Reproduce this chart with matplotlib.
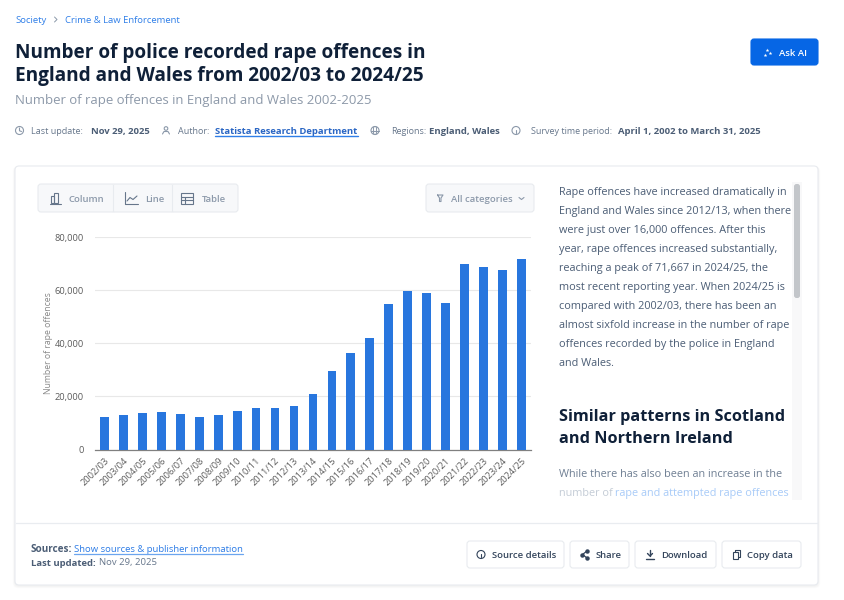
import matplotlib
matplotlib.use('Agg')
import matplotlib.pyplot as plt
from matplotlib.patches import FancyBboxPatch, Rectangle, Circle
from matplotlib.ticker import FuncFormatter

plt.rcParams['font.family'] = ['Open Sans', 'DejaVu Sans']

years = ['2002/03', '2003/04', '2004/05', '2005/06', '2006/07', '2007/08', '2008/09', '2009/10',
         '2010/11', '2011/12', '2012/13', '2013/14', '2014/15', '2015/16', '2016/17', '2017/18',
         '2018/19', '2019/20', '2020/21', '2021/22', '2022/23', '2023/24', '2024/25']
offences = [12200, 12900, 13700, 14300, 13400, 12400, 12900, 14700, 15800, 15800, 16400, 20800,
            29500, 36400, 41900, 54700, 59700, 59000, 55400, 69800, 68800, 67600, 71667]
y_ticks = [0, 20000, 40000, 60000, 80000]

paragraph = ['Rape offences have increased dramatically in',
             'England and Wales since 2012/13, when there',
             'were just over 16,000 offences. After this',
             'year, rape offences increased substantially,',
             'reaching a peak of 71,667 in 2024/25, the',
             'most recent reporting year. When 2024/25 is',
             'compared with 2002/03, there has been an',
             'almost sixfold increase in the number of rape',
             'offences recorded by the police in England',
             'and Wales.']

NAVY = '#0f2038'
SLATE = '#4b5d75'
MUTED = '#8c99aa'
LINK = '#0666e5'
PALE = '#f7f8fa'
EDGE = '#e8ebef'

fig = plt.figure(figsize=(8.45, 6), dpi=100, facecolor='white')

# page layer in pixel coordinates, y pointing down
page = fig.add_axes([0, 0, 1, 1])
page.set_xlim(0, 845)
page.set_ylim(600, 0)
page.axis('off')


def label(x, y, s, size=9, color=SLATE, weight='normal', ha='left'):
    return page.text(x, y, s, fontsize=size * 0.72, color=color, fontweight=weight,
                     ha=ha, va='center_baseline')


def box(x0, y0, x1, y1, face='white', edge=EDGE, radius=3, lw=0.8, z=2):
    page.add_patch(FancyBboxPatch((x0, y0), x1 - x0, y1 - y0,
                                  boxstyle=f'round,pad=0,rounding_size={radius}',
                                  fc=face, ec=edge, lw=lw, zorder=z))


def shadow(x0, y0, x1, y1, radius=4, reach=4):
    for i in range(reach, 0, -1):
        page.add_patch(FancyBboxPatch((x0 - i * 0.6, y0 - i * 0.3 + 1), x1 - x0 + i * 1.2, y1 - y0 + i * 0.9,
                                      boxstyle=f'round,pad=0,rounding_size={radius + i * 0.5}',
                                      fc='#10233c', ec='none', alpha=0.012, zorder=1))


def ring(x, y, r=4, color=MUTED, lw=0.8):
    page.add_patch(Circle((x, y), r, fc='none', ec=color, lw=lw, zorder=5))


def stroke(xs, ys, color=MUTED, lw=0.8):
    page.plot(xs, ys, color=color, lw=lw, zorder=5, solid_capstyle='round')


# header
label(15, 19.5, 'Society', 9.5, '#2f7fe8')
stroke([54.5, 57, 54.5], [17, 19.5, 22], MUTED, 0.7)
label(65, 19.5, 'Crime & Law Enforcement', 9.5, '#2f7fe8')
label(15, 50.5, 'Number of police recorded rape offences in', 19.05, NAVY, 'bold')
label(15, 74, 'England and Wales from 2002/03 to 2024/25', 19.05, NAVY, 'bold')
label(15, 99, 'Number of rape offences in England and Wales 2002-2025', 13.1, '#8d99a9')

box(751, 39, 818, 65, face='#0666e5', edge='#0666e5', radius=3)
label(779, 52.5, 'Ask AI', 9.5, 'white', 'semibold')
page.plot([767.5, 770, 765], [49.5, 53, 54.5], ls='none', marker='*', ms=2.8, mew=0, color='white', zorder=5)

# metadata row
ring(19.5, 130.5)
stroke([19.5, 19.5, 21.5], [128, 130.8, 131.5])
label(31, 130.5, 'Last update:', 9, '#66768b')
label(91, 130.5, 'Nov 29, 2025', 9.5, SLATE, 'bold')
ring(166, 128.5, 1.8)
stroke([162.5, 164, 168, 169.5], [134, 131.5, 131.5, 134])
label(178, 130.5, 'Author:', 9, '#66768b')
label(215.5, 130.5, 'Statista Research Department', 9.5, '#2a66c4', 'bold')
stroke([215.5, 358.5], [136, 136], '#2f7fe8', 1)
ring(375, 130.5)
stroke([371, 379], [130.5, 130.5])
page.add_patch(FancyBboxPatch((373.5, 126.5), 3, 8, boxstyle='round,pad=0,rounding_size=1.5', fc='none', ec=MUTED, lw=0.7, zorder=5))
label(391, 130.5, 'Regions:', 9, '#66768b')
label(429, 130.5, 'England, Wales', 9.5, SLATE, 'bold')
ring(516, 130.5)
stroke([516, 516], [129.5, 133])
label(531, 130.5, 'Survey time period:', 9, '#66768b')
label(618, 130.5, 'April 1, 2002 to March 31, 2025', 9.5, SLATE, 'bold')

# card
shadow(15, 166, 818, 585)
box(15, 166, 818, 585, radius=4)
page.plot([16, 817], [523, 523], color='#e9ecf0', lw=0.9, zorder=3)

# view switcher and filter
shadow(38, 184, 238, 212, 3, 3)
box(38, 184, 238, 212, face=PALE, z=3)
for x in (113, 172):
    page.plot([x, x], [185, 211], color=EDGE, lw=0.8, zorder=4)
stroke([50, 61], [204, 204], '#66768b')
page.add_patch(Rectangle((51.5, 196), 3, 7, fc='none', ec='#66768b', lw=0.8, zorder=5))
page.add_patch(Rectangle((54.5, 192.5), 3.5, 10.5, fc='none', ec='#66768b', lw=0.8, zorder=5))
label(69, 198.5, 'Column', 9.5, MUTED, 'semibold')
stroke([125, 125, 138], [191.5, 204, 204], '#66768b')
stroke([127, 130, 133, 137], [201, 197.5, 199.5, 196], '#66768b')
label(145, 198.5, 'Line', 9.5, MUTED, 'semibold')
page.add_patch(Rectangle((181, 193), 12, 10.5, fc='none', ec='#66768b', lw=0.8, zorder=5))
stroke([181, 193], [196.5, 196.5], '#66768b')
stroke([181, 193], [200, 200], '#66768b')
stroke([185.5, 185.5], [196.5, 203.5], '#66768b')
label(202, 198.5, 'Table', 9.5, MUTED, 'semibold')

shadow(426, 184, 534, 212, 3, 3)
box(426, 184, 534, 212, face=PALE, z=3)
stroke([437.5, 443, 441, 441, 439.5, 439.5, 437.5], [195, 195, 198, 201.5, 201.5, 198, 195], MUTED)
label(451, 198.5, 'All categories', 9.5, MUTED, 'semibold')
stroke([519, 521.5, 524], [197.5, 199.5, 197.5], MUTED)

# commentary column
for i, line in enumerate(paragraph):
    label(559.5, 191 + i * 19, line, 10.85, SLATE)
label(559.5, 415, 'Similar patterns in Scotland', 16.3, NAVY, 'bold')
label(559.5, 437, 'and Northern Ireland', 16.3, NAVY, 'bold')
label(559.5, 473, 'While there has also been an increase in the', 10.85, '#6f7f93')
label(559.5, 492, 'number of', 10.85, '#c4ccd6')
label(615.5, 492, 'rape and attempted rape offences', 10.85, '#a8cbf8')
page.add_patch(Rectangle((792, 182), 10, 318, fc='#f8f8f9', ec='none', zorder=2.5))
box(794, 184, 800, 298, face='#c3c6ca', edge='none', radius=2.5, z=4)

# footer
label(31, 548, 'Sources:', 9.9, SLATE, 'bold')
label(74, 548, 'Show sources & publisher information', 9.5, '#2b7be6')
stroke([74, 243], [553.5, 553.5], '#6ba5ef', 0.9)
label(31, 562, 'Last updated:', 9.5, SLATE, 'bold')
label(99, 562, 'Nov 29, 2025', 9.5, '#66768b')

buttons = [(467, 564, 492, 'Source details'), (570, 629, 596, 'Share'),
           (635, 716, 661, 'Download'), (722, 801, 747, 'Copy data')]
for x0, x1, tx, name in buttons:
    shadow(x0, 541, x1, 568, 3, 3)
    box(x0, 541, x1, 568, z=3)
    label(tx, 554.5, name, 9.5, '#33445b', 'semibold')
ring(481, 554.5, 4, '#33445b')
stroke([481, 481], [553.5, 557], '#33445b')
stroke([587, 582.5, 587], [551, 554.5, 558], '#33445b', 0.9)
page.plot([587, 582.5, 587], [551, 554.5, 558], ls='none', marker='o', ms=2.2, color='#33445b', zorder=5)
stroke([650, 650], [549.5, 556], '#33445b', 1)
stroke([647.5, 650, 652.5], [553.5, 556, 553.5], '#33445b', 1)
stroke([646, 654], [559, 559], '#33445b', 1)
page.add_patch(Rectangle((733, 552), 5.5, 7, fc='none', ec='#33445b', lw=0.8, zorder=5))
stroke([735, 735, 740.5, 740.5, 738.5], [552, 550, 550, 557, 557], '#33445b')

# bar chart
ax = fig.add_axes([95 / 845, (600 - 449.5) / 600, 435.7 / 845, 212.2 / 600])
ax.patch.set_alpha(0)
ax.bar(range(len(years)), offences, width=0.46, color='#2876de', zorder=3)
ax.set_xlim(-0.51, 22.5)
ax.set_ylim(0, 80000)
ax.set_yticks(y_ticks)
ax.yaxis.set_major_formatter(FuncFormatter(lambda v, _: f'{int(v):,}'))
ax.set_xticks(range(len(years)))
ax.set_xticklabels(years, rotation=45, ha='right', rotation_mode='anchor', fontsize=6.7, color='#5c5c5c')
ax.tick_params(axis='x', length=0, pad=5)
ax.tick_params(axis='y', length=0, pad=8, labelsize=6.7, labelcolor='#5c5c5c')
ax.grid(axis='y', color='#e8e8e8', lw=0.8, zorder=0)
ax.set_axisbelow(True)
for side in ('top', 'right', 'left'):
    ax.spines[side].set_visible(False)
ax.spines['bottom'].set_color('#808080')
ax.spines['bottom'].set_linewidth(0.9)
ax.set_ylabel('Number of rape offences', fontsize=6.2, color='#888888', labelpad=1.5)

fig.savefig('out.png', dpi=100)
